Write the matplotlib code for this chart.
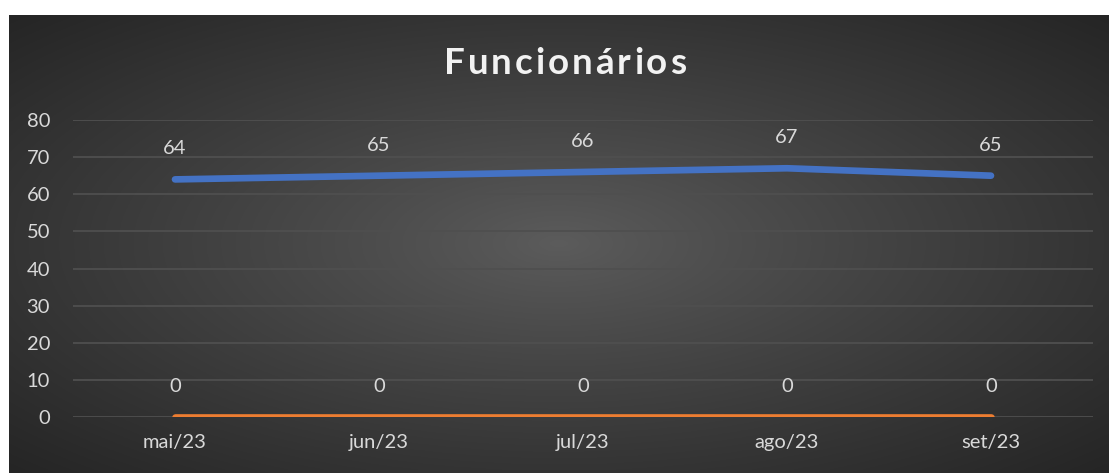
import numpy as np
import matplotlib.pyplot as plt

meses = ['mai/23', 'jun/23', 'jul/23', 'ago/23', 'set/23']
funcionarios = [64, 65, 66, 67, 65]
outros = [0, 0, 0, 0, 0]
titulo = 'Funcionários'

plt.rcParams['font.family'] = ['Lato', 'DejaVu Sans']

W, H = 1109, 473
fig = plt.figure(figsize=(W / 100, H / 100), dpi=100)
fig.patch.set_facecolor('white')

# fundo escuro com gradiente radial
bg = fig.add_axes([9 / W, 0, 1100 / W, 458 / H])
bg.set_axis_off()
yy, xx = np.mgrid[-1:1:300j, -1:1:600j]
r = np.sqrt(xx ** 2 + yy ** 2) / np.sqrt(2)
c0 = np.array([0x5c, 0x5c, 0x5c]) / 255
c1 = np.array([0x25, 0x25, 0x25]) / 255
img = c0 + (c1 - c0) * np.clip(r, 0, 1)[..., None] ** 0.9
bg.imshow(img, aspect='auto', extent=[0, 1, 0, 1])
bg.set_xlim(0, 1)
bg.set_ylim(0, 1)

ax = fig.add_axes([73 / W, (H - 417) / H, 1020 / W, 297 / H])
ax.patch.set_alpha(0)
x = np.arange(len(meses))

ax.plot(x, funcionarios, color='#4472C4', lw=4.8, solid_capstyle='round', zorder=3)
ax.plot(x, outros, color='#ED7D31', lw=4.8, solid_capstyle='round', zorder=3)

for xi, v in zip(x, funcionarios):
    ax.annotate(str(v), (xi, v), xytext=(0, 22), textcoords='offset points',
                ha='center', va='center', color='#d9d9d9', fontsize=14.5)
for xi, v in zip(x, outros):
    ax.annotate(str(v), (xi, v), xytext=(0, 22), textcoords='offset points',
                ha='center', va='center', color='#d9d9d9', fontsize=14.5)

ax.set_xlim(-0.5, len(meses) - 0.5)
ax.set_ylim(0, 80)
ax.set_yticks(range(0, 81, 10))
ax.set_xticks(x)
ax.set_xticklabels(meses)
ax.grid(axis='y', color='#4f4f4f', lw=1.3)
ax.set_axisbelow(True)
for s in ax.spines.values():
    s.set_visible(False)
ax.tick_params(length=0, colors='#d9d9d9', labelsize=14.5)
ax.tick_params(axis='y', pad=16.5)
ax.tick_params(axis='x', pad=12)

# titulo com espaçamento entre letras
fig.canvas.draw()
rend = fig.canvas.get_renderer()
espaco = 3.0
letras = []
pos = 0
for ch in titulo:
    t = fig.text(0, 1 - 64 / H, ch, ha='left', va='center', color='#f2f2f2',
                 fontsize=26.5, fontweight='bold')
    w = t.get_window_extent(rend).width
    letras.append((t, pos))
    pos += w + espaco
total = pos - espaco
x0 = 565 - total / 2
for t, p in letras:
    t.set_x((x0 + p) / W)

fig.savefig('out.png', dpi=100)
